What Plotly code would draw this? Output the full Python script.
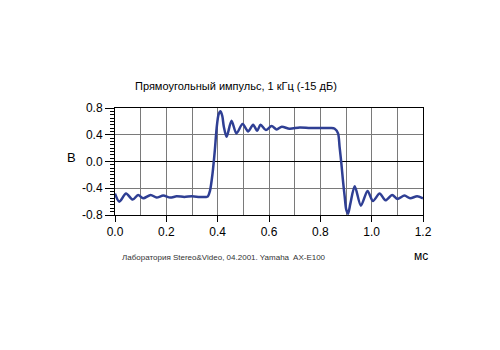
import plotly.graph_objects as go

# Time (ms) and voltage (V)
t_ms = [0.0, 0.017, 0.043, 0.069, 0.09, 0.11, 0.139, 0.162, 0.188, 0.215, 0.24, 0.27,
        0.30, 0.33, 0.355, 0.362, 0.370, 0.380, 0.389, 0.396, 0.404, 0.411, 0.418,
        0.424, 0.435, 0.454, 0.473, 0.497, 0.519, 0.538, 0.554, 0.567, 0.588, 0.61,
        0.63, 0.65, 0.68, 0.72, 0.76, 0.80, 0.84, 0.856, 0.869, 0.875, 0.882, 0.888,
        0.895, 0.901, 0.908, 0.917, 0.934, 0.958, 0.984, 1.005, 1.031, 1.054, 1.08,
        1.10, 1.128, 1.15, 1.177, 1.2]
volts = [-0.48, -0.60, -0.48, -0.57, -0.50, -0.55, -0.50, -0.54, -0.51, -0.54, -0.52, -0.53,
         -0.52, -0.53, -0.53, -0.52, -0.44, -0.18, 0.17, 0.50, 0.71, 0.75, 0.68,
         0.52, 0.37, 0.61, 0.42, 0.56, 0.45, 0.55, 0.46, 0.55, 0.47, 0.53,
         0.48, 0.52, 0.49, 0.51, 0.50, 0.50, 0.50, 0.49, 0.42, 0.22, -0.03, -0.28,
         -0.53, -0.72, -0.78, -0.63, -0.37, -0.66, -0.44, -0.59, -0.48, -0.58, -0.50,
         -0.56, -0.51, -0.55, -0.52, -0.55]

x_tickvals = [0.0, 0.2, 0.4, 0.6, 0.8, 1.0, 1.2]
x_ticktext = ["0.0", "0.2", "0.4", "0.6", "0.8", "1.0", "1.2"]
y_tickvals = [0.8, 0.4, 0.0, -0.4, -0.8]
y_ticktext = ["0.8", "0.4", "0.0", "-0.4", "-0.8"]

title_text = "Прямоугольный импульс, 1 кГц (-15 дБ)"
footer_text = "Лаборатория Stereo&Video, 04.2001. Yamaha  AX-E100"
x_unit = "мс"
y_unit = "В"

FONT = "Liberation Sans, Arial, sans-serif"

fig = go.Figure()
fig.add_trace(go.Scatter(
    x=t_ms, y=volts, mode="lines",
    line=dict(color="#2f3f94", width=2.5, shape="spline", smoothing=0.8),
    hoverinfo="skip", showlegend=False,
))

fig.update_layout(
    width=500, height=350,
    margin=dict(l=115, r=77, t=108, b=135),
    paper_bgcolor="white", plot_bgcolor="white",
    font=dict(family=FONT, size=12, color="black"),
    showlegend=False,
    xaxis=dict(
        range=[0, 1.2], tickvals=x_tickvals, ticktext=x_ticktext,
        ticks="outside", ticklen=6, tickcolor="black", tickwidth=1,
        showline=True, linecolor="black", linewidth=1, mirror=True,
        showgrid=True, gridcolor="#7a7a7a", gridwidth=1,
        minor=dict(dtick=0.1, showgrid=True, gridcolor="#7a7a7a", gridwidth=1, ticks=""),
        zeroline=False, tickfont=dict(size=12, family=FONT),
    ),
    yaxis=dict(
        range=[-0.8, 0.8], tickvals=y_tickvals, ticktext=y_ticktext,
        ticks="outside", ticklen=9, tickcolor="black", tickwidth=1,
        showline=True, linecolor="black", linewidth=1, mirror=True,
        showgrid=True, gridcolor="#7a7a7a", gridwidth=1,
        minor=dict(dtick=0.05, ticks="outside", ticklen=4, tickcolor="black", showgrid=False),
        zeroline=True, zerolinecolor="black", zerolinewidth=1,
        tickfont=dict(size=12, family=FONT),
    ),
)

fig.add_annotation(text=title_text, xref="paper", yref="paper",
                   x=0.393, y=1.206, xanchor="center", yanchor="middle",
                   showarrow=False, font=dict(size=11, family=FONT, color="black"))
fig.add_annotation(text=footer_text, xref="paper", yref="paper",
                   x=0.016, y=-0.393, xanchor="left", yanchor="middle",
                   showarrow=False, font=dict(size=8, family=FONT, color="#333333"))
fig.add_annotation(text=x_unit, xref="paper", yref="paper",
                   x=0.994, y=-0.383, xanchor="center", yanchor="middle",
                   showarrow=False, font=dict(size=12, family=FONT, color="black"))
fig.add_annotation(text=y_unit, xref="paper", yref="paper",
                   x=-0.14, y=0.542, xanchor="center", yanchor="middle",
                   showarrow=False, font=dict(size=13, family=FONT, color="black"))

fig.write_html("out.html")
